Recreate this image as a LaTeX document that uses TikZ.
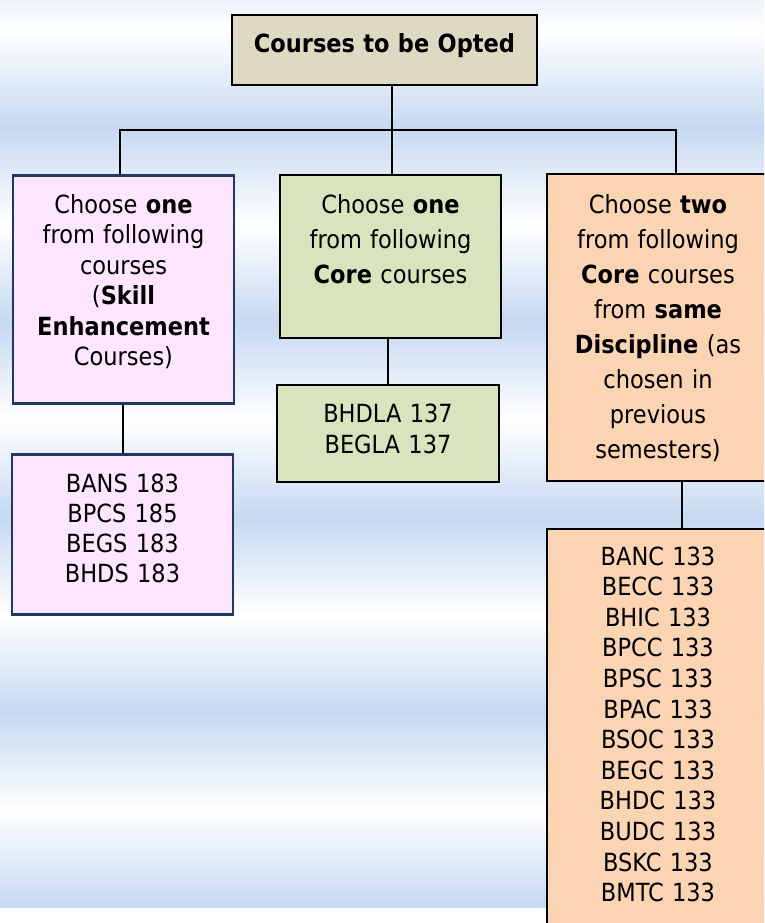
\documentclass[tikz,border=0pt]{standalone}
\usepackage{fontspec}
\setmainfont{DejaVu Sans Condensed}
\usetikzlibrary{positioning}
\definecolor{sky}{HTML}{C6D9F1}
\definecolor{tan}{HTML}{DDD9C3}
\definecolor{lilac}{HTML}{FFE6FF}
\definecolor{olive}{HTML}{D7E4BD}
\definecolor{peach}{HTML}{FBD4B4}
\definecolor{navy}{HTML}{1F3864}
\tikzset{every picture/.style = {x=1pt, y=-1pt, line width=2pt}}
\tikzset{pick/.style = {draw, rectangle, anchor=north, inner sep=0pt, align=center,
  text width=221pt, font=\fontsize{25}{35}\selectfont}}
\tikzset{skillbox/.style = {pick, fill=lilac, draw=navy, line width=2.5pt, font=\fontsize{25}{30.5}\selectfont}}
\tikzset{corebox/.style = {pick, fill=olive}}
\tikzset{discbox/.style = {pick, fill=peach, text width=222pt}}

\begin{document}
\begin{tikzpicture}
  \useasboundingbox (0,0) rectangle (764,923);
  \clip (0,0) rectangle (764,923);
  % background bands
  \foreach \w in {30,225,420,615,810} {
    \shade[top color=sky, bottom color=white] (0,\w-97.5) rectangle (764,\w);
    \shade[top color=white, bottom color=sky] (0,\w) rectangle (764,\w+97.5);
  }

  \node[pick, fill=tan, text width=305pt, text height=38pt, text depth=32pt] (opted)
    at (384.5,14) {\textbf{Courses to be Opted}};

  \node[skillbox, text height=38pt, text depth=190pt] (skill) at (123.5,174)
    {Choose \textbf{one}\\from following\\courses\\(\textbf{Skill}\\\textbf{Enhancement}\\Courses)};
  \node[corebox, text height=38pt, text depth=125pt] (core) at (390.5,174)
    {Choose \textbf{one}\\from following\\\textbf{Core} courses};
  \node[discbox, text height=39pt, text depth=268pt] (disc) at (658,173)
    {Choose \textbf{two}\\from following\\\textbf{Core} courses\\from \textbf{same}\\\textbf{Discipline} (as\\chosen in\\previous\\semesters)};

  \node[skillbox, font=\fontsize{25}{30}\selectfont, text height=38pt, text depth=122pt] (skilllist) at (122.5,453)
    {BANS 183\\BPCS 185\\BEGS 183\\BHDS 183};
  \node[corebox, text width=222pt, font=\fontsize{25}{31}\selectfont, text height=37pt, text depth=60pt] (corelist) at (388,384)
    {BHDLA 137\\BEGLA 137};
  \node[discbox, font=\fontsize{25}{30.6}\selectfont, text height=36pt, text depth=420pt] (disclist) at (658,528)
    {BANC 133\\BECC 133\\BHIC 133\\BPCC 133\\BPSC 133\\BPAC 133\\BSOC 133\\BEGC 133\\BHDC 133\\BUDC 133\\BSKC 133\\BMTC 133};

  % tree lines
  \coordinate (hub) at (392,130);
  \draw (opted.south -| hub) -- (core.north -| hub);
  \draw ([xshift=-3.5]skill.north) |- (hub) -| ([xshift=18]disc.north);
  \draw (skill.south -| skilllist.north) -- (skilllist.north);
  \draw (core.south -| corelist.north) -- (corelist.north);
  \draw ([xshift=24]disc.south) -- ([xshift=24]disclist.north);
\end{tikzpicture}
\end{document}
